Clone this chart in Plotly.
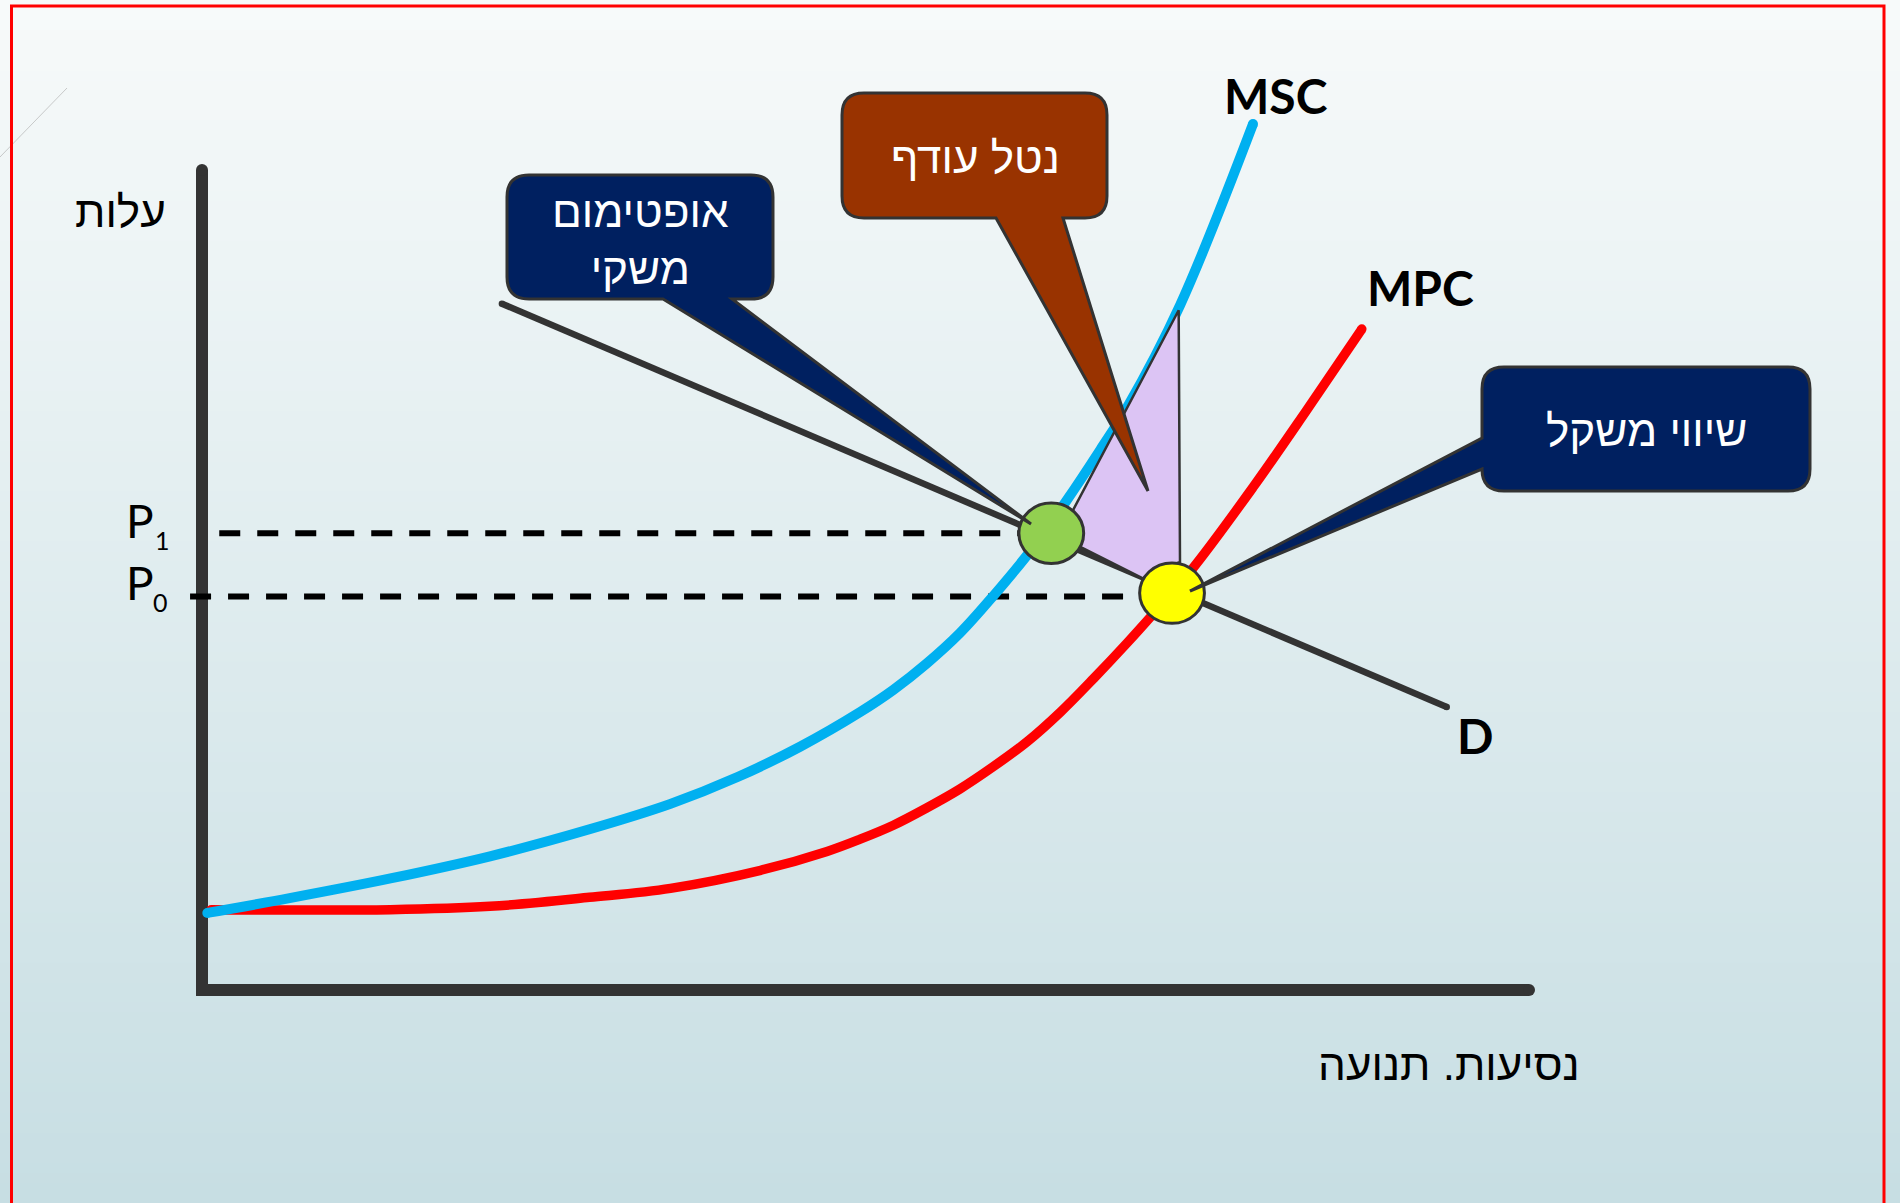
import plotly.graph_objects as go

# ---- chart values: quantity (x) vs cost (y) ----
msc_q = [0.04, 0.66, 1.42, 2.17, 2.92, 3.53, 4.04, 4.51, 4.96, 5.21, 5.46, 5.71, 5.96,
         6.27, 6.52, 6.77, 6.97, 7.37, 7.92]
msc_c = [0.94, 1.12, 1.36, 1.63, 1.96, 2.27, 2.60, 2.97, 3.39, 3.66, 3.98, 4.35, 4.80,
         5.41, 5.98, 6.59, 7.10, 8.35, 10.56]

mpc_q = [0.07, 1.42, 2.17, 2.92, 3.53, 4.21, 4.71, 4.96, 5.21, 5.46, 5.71, 5.96, 6.22,
         6.47, 6.72, 6.97, 7.17, 7.47, 7.92, 8.32, 8.74]
mpc_c = [0.98, 0.98, 1.02, 1.13, 1.24, 1.46, 1.69, 1.84, 2.01, 2.22, 2.45, 2.72, 3.03,
         3.39, 3.80, 4.23, 4.59, 5.15, 6.13, 7.06, 8.06]

demand_q = [2.26, 9.38]
demand_c = [8.37, 3.45]

p1 = 5.57
p0 = 4.80
optimum = (6.40, 5.57)       # social optimum (green)
equilibrium = (7.31, 4.84)   # market equilibrium (yellow)

# deadweight loss area
dwl_q = [6.56, 7.36, 7.37, 7.09, 6.60]
dwl_c = [5.84, 8.29, 5.22, 5.02, 5.42]

axis_q = [0, 0, 10]
axis_c = [10, 0, 0]

# ---- page geometry ----
W, H = 1900, 1203
ORIGIN_X, ORIGIN_Y = 202.0, 990.0
PX_Q, PX_C = 132.7, 82.0


def px(x):
    return x / W


def py(y):
    return 1 - y / H


def callout(x0, y0, x1, y1, r, side, b0, b1, tip):
    """rounded box with a wedge pointer, as an svg path in paper coords"""
    f = lambda x, y: f"{px(x):.5f},{py(y):.5f}"
    d = f"M {f(x0 + r, y0)} L {f(x1 - r, y0)} Q {f(x1, y0)} {f(x1, y0 + r)}"
    d += f" L {f(x1, y1 - r)} Q {f(x1, y1)} {f(x1 - r, y1)}"
    if side == "bottom":
        d += f" L {f(b1, y1)} L {f(*tip)} L {f(b0, y1)}"
    d += f" L {f(x0 + r, y1)} Q {f(x0, y1)} {f(x0, y1 - r)}"
    if side == "left":
        d += f" L {f(x0, b1)} L {f(*tip)} L {f(x0, b0)}"
    d += f" L {f(x0, y0 + r)} Q {f(x0, y0)} {f(x0 + r, y0)} Z"
    return d


def curve(xs, ys, color, width, shape="linear"):
    # line plus round end caps
    return [
        go.Scatter(x=xs, y=ys, mode="lines", line=dict(color=color, width=width, shape=shape)),
        go.Scatter(x=[xs[0], xs[-1]], y=[ys[0], ys[-1]], mode="markers",
                   marker=dict(color=color, size=width, line=dict(width=0))),
    ]


fig = go.Figure()

# axes
fig.add_traces(curve(axis_q, axis_c, "#333333", 12))

# price dashes
for level, end in [(p1, optimum[0]), (p0, equilibrium[0])]:
    start = 0.13 if level == p1 else -0.09
    fig.add_trace(go.Scatter(x=[start, end - 0.2], y=[level, level], mode="lines",
                             line=dict(color="black", width=6, dash="21px,17px")))

# curves
fig.add_traces(curve(mpc_q, mpc_c, "#ff0000", 9.5, "spline"))
fig.add_traces(curve(msc_q, msc_c, "#00b0f0", 10, "spline"))
fig.add_traces(curve(demand_q, demand_c, "#333333", 6.5))

# deadweight loss
fig.add_trace(go.Scatter(x=dwl_q, y=dwl_c, mode="lines", fill="toself",
                         fillcolor="#dcc4f4", line=dict(color="#333333", width=2.5)))

shapes = []

# background gradient bands
n_bands = 120
top_rgb, bot_rgb = (247, 250, 250), (199, 222, 227)
for i in range(n_bands):
    t = i / (n_bands - 1)
    col = "rgb(%d,%d,%d)" % tuple(round(a + (b - a) * t) for a, b in zip(top_rgb, bot_rgb))
    shapes.append(dict(type="rect", xref="paper", yref="paper", layer="below",
                       x0=0, x1=1, y0=py(H * (i + 1) / n_bands + 1), y1=py(H * i / n_bands),
                       fillcolor=col, line=dict(width=0)))

# faint decorative stroke
shapes.append(dict(type="line", xref="paper", yref="paper", x0=px(67), y0=py(88),
                   x1=px(0), y1=py(157), line=dict(color="rgba(170,170,170,0.6)", width=1)))

# points
for (q, c), col in [(optimum, "#92d050"), (equilibrium, "#ffff00")]:
    rx, ry = 32.4 / PX_Q, 30.2 / PX_C
    shapes.append(dict(type="circle", xref="x", yref="y", x0=q - rx, x1=q + rx,
                       y0=c - ry, y1=c + ry, fillcolor=col,
                       line=dict(color="#333333", width=3)))

# callouts
shapes.append(dict(type="path", xref="paper", yref="paper",
                   path=callout(507, 175, 773, 299, 22, "bottom", 663, 732, (1031, 524)),
                   fillcolor="#002060", line=dict(color="#333333", width=3)))
shapes.append(dict(type="path", xref="paper", yref="paper",
                   path=callout(842, 93, 1107, 218, 22, "bottom", 996, 1063, (1148, 491)),
                   fillcolor="#993300", line=dict(color="#333333", width=3)))
shapes.append(dict(type="path", xref="paper", yref="paper",
                   path=callout(1482, 367, 1810, 491, 22, "left", 438, 469, (1190, 591)),
                   fillcolor="#002060", line=dict(color="#333333", width=3)))

# slide border
shapes.append(dict(type="rect", xref="paper", yref="paper", x0=px(11.5), x1=px(1884),
                   y0=py(1215), y1=py(6), line=dict(color="#ff0000", width=3)))

HEB = "Liberation Sans"
LAT = "Lato"


def label(x, y, text, size, color="black", family=HEB, weight="normal"):
    return dict(x=px(x), y=py(y), xref="paper", yref="paper", text=text, showarrow=False,
                xanchor="center", yanchor="middle",
                font=dict(family=family, size=size, color=color, weight=weight))


annotations = [
    label(120, 211, "עלות", 44),
    label(1449, 1064, "נסיעות. תנועה", 44),
    label(1276, 95, "MSC", 48, family=LAT, weight="bold"),
    label(1420, 288, "MPC", 48, family=LAT, weight="bold"),
    label(1475, 735, "D", 48, family=LAT, weight="bold"),
    label(140, 520, "P", 46, family=LAT),
    label(162, 540, "1", 25, family=LAT),
    label(140, 582, "P", 46, family=LAT),
    label(160, 602, "0", 25, family=LAT),
    label(640, 240, "אופטימום<br>משקי", 44, color="white"),
    label(975, 158, "נטל עודף", 44, color="white"),
    label(1646, 430, "שיווי משקל", 44, color="white"),
]

fig.update_layout(
    width=W, height=H,
    margin=dict(l=0, r=0, t=0, b=0),
    paper_bgcolor="rgb(220,234,237)",
    plot_bgcolor="rgba(0,0,0,0)",
    showlegend=False,
    hovermode=False,
    xaxis=dict(visible=False, range=[-ORIGIN_X / PX_Q, (W - ORIGIN_X) / PX_Q], fixedrange=True),
    yaxis=dict(visible=False, range=[-(H - ORIGIN_Y) / PX_C, ORIGIN_Y / PX_C], fixedrange=True),
    shapes=shapes,
    annotations=annotations,
)

fig.write_html("out.html", config={"displayModeBar": False},
               post_script="document.body.style.margin='0';document.body.style.overflow='hidden';")
